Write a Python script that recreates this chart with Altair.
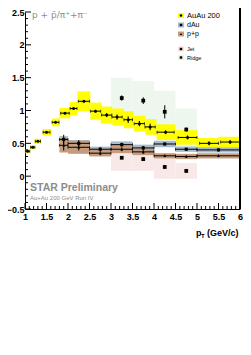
import altair as alt
import pandas as pd

# ---------------- data ----------------
# Au+Au 200 GeV
au_pt = [1.06, 1.18, 1.30, 1.50, 1.71, 1.93, 2.13, 2.37, 2.64, 2.90, 3.14, 3.40, 3.66, 3.91, 4.27, 4.78, 5.28, 5.77]
au_r = [0.38, 0.44, 0.53, 0.67, 0.82, 0.96, 1.03, 1.14, 0.99, 0.93, 0.90, 0.86, 0.80, 0.75, 0.67, 0.59, 0.50, 0.52]
au_lo = [1.00, 1.12, 1.22, 1.41, 1.63, 1.80, 2.04, 2.22, 2.52, 2.76, 3.03, 3.30, 3.53, 3.80, 4.06, 4.50, 5.00, 5.50]
au_hi = [1.11, 1.24, 1.38, 1.62, 1.81, 2.05, 2.22, 2.52, 2.78, 3.03, 3.30, 3.53, 3.80, 4.06, 4.50, 5.00, 5.50, 6.00]
au_sys = [0.03, 0.03, 0.04, 0.05, 0.06, 0.08, 0.10, 0.15, 0.13, 0.13, 0.13, 0.13, 0.12, 0.12, 0.12, 0.11, 0.08, 0.08]
au_err = [0.01, 0.01, 0.01, 0.01, 0.01, 0.01, 0.02, 0.02, 0.02, 0.03, 0.04, 0.05, 0.04, 0.05, 0.03, 0.03, 0.03, 0.03]
au_xe = [0.05, 0.05, 0.06, 0.08, 0.08, 0.10, 0.08, 0.13, 0.12, 0.12, 0.12, 0.10, 0.12, 0.12, 0.20, 0.22, 0.22, 0.22]

# d+Au and p+p (same bins)
dp_pt = [1.90, 2.25, 2.75, 3.25, 3.75, 4.25, 4.75, 5.50]
dp_lo = [1.80, 2.00, 2.50, 3.00, 3.50, 4.00, 4.50, 5.00]
dp_hi = [2.00, 2.50, 3.00, 3.50, 4.00, 4.50, 5.00, 6.00]
da_r = [0.56, 0.50, 0.41, 0.48, 0.43, 0.49, 0.41, 0.40]
da_sys = [0.05, 0.05, 0.04, 0.05, 0.05, 0.05, 0.04, 0.04]
da_err = [0.07, 0.05, 0.03, 0.03, 0.03, 0.02, 0.02, 0.02]
pp_r = [0.47, 0.44, 0.35, 0.41, 0.37, 0.31, 0.30, 0.31]
pp_sys = [0.11, 0.10, 0.05, 0.06, 0.05, 0.04, 0.04, 0.04]
pp_err = [0.08, 0.05, 0.03, 0.03, 0.03, 0.02, 0.02, 0.02]

# Jet and Ridge
jr_pt = [3.25, 3.75, 4.25, 4.75]
jr_lo = [3.00, 3.50, 4.00, 4.50]
jr_hi = [3.50, 4.00, 4.50, 5.00]
jet_r = [0.28, 0.26, 0.14, 0.08]
jet_sys = [0.20, 0.18, 0.18, 0.12]
jet_err = [0.02, 0.03, 0.03, 0.03]
rid_r = [1.19, 1.15, 0.98, 0.71]
rid_sys = [0.31, 0.30, 0.32, 0.32]
rid_err = [0.04, 0.05, 0.10, 0.03]

x_major = [1, 1.5, 2, 2.5, 3, 3.5, 4, 4.5, 5, 5.5, 6]
y_major = [-0.5, 0, 0.5, 1, 1.5, 2, 2.5]
x_minor = [round(1 + 0.1 * i, 2) for i in range(51) if i % 5 != 0]
y_minor = [round(-0.5 + 0.1 * i, 2) for i in range(31) if i % 5 != 0]

leg_names = ["AuAu 200", "dAu", "p+p", "Jet", "Ridge"]
leg_fill = ["#ffff00", "#a9bccb", "#c69c7e", "#f7dede", "#e8f4e8"]
leg_shape = ["circle", "square", "triangle-up", "square", "square"]
leg_fs = [7.5, 7, 7, 5.5, 5.5]
leg_y = [3.5, 13, 22, 37, 45.5]

# ---------------- chart ----------------
W, H = 215, 197
FONT = "Liberation Sans"
xs = alt.Scale(domain=[1, 6], nice=False, zero=False)
ys = alt.Scale(domain=[-0.5, 2.5], nice=False, zero=False)
ax = alt.Axis(values=x_major, format="~g", title=None, grid=False, ticks=False,
              domainColor="black", domainWidth=1, labelFont=FONT, labelFontWeight="bold",
              labelFontSize=9, labelColor="black", labelPadding=3, labelOverlap=False,
              labelFlush=False)
ay = alt.Axis(values=y_major, format="~g", title=None, grid=False, ticks=False,
              domainColor="black", domainWidth=1, labelFont=FONT, labelFontWeight="bold",
              labelFontSize=9, labelColor="black", labelPadding=1, labelOverlap=False,
              labelFlush=False)


def mk(pt, r, lo, hi, sys, err, xe=None):
    d = pd.DataFrame({"pt": pt, "r": r, "lo": lo, "hi": hi})
    d["ylo"] = [a - b for a, b in zip(r, sys)]
    d["yhi"] = [a + b for a, b in zip(r, sys)]
    d["elo"] = [a - b for a, b in zip(r, err)]
    d["ehi"] = [a + b for a, b in zip(r, err)]
    if xe is not None:
        d["xl"] = [a - b for a, b in zip(pt, xe)]
        d["xh"] = [a + b for a, b in zip(pt, xe)]
    else:
        d["xl"] = lo
        d["xh"] = hi
    return d


au = mk(au_pt, au_r, au_lo, au_hi, au_sys, au_err, au_xe)
da = mk(dp_pt, da_r, dp_lo, dp_hi, da_sys, da_err)
pp = mk(dp_pt, pp_r, dp_lo, dp_hi, pp_sys, pp_err)
jet = mk(jr_pt, jet_r, jr_lo, jr_hi, jet_sys, jet_err)
rid = mk(jr_pt, rid_r, jr_lo, jr_hi, rid_sys, rid_err)


def X(f):
    return alt.X(f, type="quantitative", scale=xs, axis=ax)


def Y(f):
    return alt.Y(f, type="quantitative", scale=ys, axis=ay)


def boxes(d, color, opacity=1.0):
    return alt.Chart(d).mark_rect(color=color, opacity=opacity).encode(
        x=X("lo"), x2="hi", y=Y("ylo"), y2="yhi")


def vbars(d):
    return alt.Chart(d).mark_rule(color="black", strokeWidth=1).encode(
        x=X("pt"), y=Y("elo"), y2="ehi")


def hbars(d):
    return alt.Chart(d).mark_rule(color="black", strokeWidth=1).encode(
        x=X("xl"), x2="xh", y=Y("r"))


def caps(d, f):
    return alt.Chart(d).mark_tick(color="black", orient="vertical", size=3, thickness=1).encode(
        x=X(f), y=Y("r"))


def pts(d, shape, size):
    return alt.Chart(d).mark_point(shape=shape, filled=True, color="black", size=size, opacity=1).encode(
        x=X("pt"), y=Y("r"))


layers = [
    boxes(rid, "#e8f4e8", 0.75),
    boxes(jet, "#f7dede", 0.7),
    boxes(au, "#ffff00"),
    boxes(da, "#a9bccb"),
    boxes(pp, "#c69c7e"),
    hbars(au), caps(au, "xl"), caps(au, "xh"),
    hbars(da), caps(da, "xl"), caps(da, "xh"),
    hbars(pp), caps(pp, "xl"), caps(pp, "xh"),
    vbars(au), vbars(da), vbars(pp), vbars(jet), vbars(rid),
    pts(au, "circle", 9),
    pts(da, "square", 10),
    pts(pp, "triangle-up", 9),
    pts(jet, "square", 14),
    pts(rid, "square", 14),
]

# inside ticks (ROOT style)
tx_major = pd.DataFrame({"v": x_major})
tx_minor = pd.DataFrame({"v": x_minor})
ty_major = pd.DataFrame({"v": y_major})
ty_minor = pd.DataFrame({"v": y_minor})
layers += [
    alt.Chart(tx_major).mark_rule(color="black", strokeWidth=1).encode(
        x=X("v"), y=alt.value(H), y2=alt.value(H - 6)),
    alt.Chart(tx_minor).mark_rule(color="black", strokeWidth=1).encode(
        x=X("v"), y=alt.value(H), y2=alt.value(H - 3)),
    alt.Chart(ty_major).mark_rule(color="black", strokeWidth=1).encode(
        y=Y("v"), x=alt.value(0), x2=alt.value(6)),
    alt.Chart(ty_minor).mark_rule(color="black", strokeWidth=1).encode(
        y=Y("v"), x=alt.value(0), x2=alt.value(3)),
    alt.Chart(tx_major).mark_rule(color="black", strokeWidth=1).encode(
        x=alt.value(W), y=alt.value(-6), y2=alt.value(H)),
]

# annotations
one = pd.DataFrame({"a": [0]})
layers += [
    alt.Chart(one).mark_text(text="p + p̄/π⁺+π⁻", font="DejaVu Sans", fontSize=9, color="#8c8c8c",
                             align="left", baseline="middle").encode(x=alt.value(7), y=alt.value(3)),
    alt.Chart(one).mark_text(text="STAR Preliminary", font=FONT, fontWeight="bold", fontSize=10.5,
                             color="#8c8c8c", align="left", baseline="middle").encode(
        x=alt.value(5), y=alt.value(176)),
    alt.Chart(one).mark_text(text="Au+Au 200 GeV Run IV", font=FONT, fontSize=6, color="#8c8c8c",
                             align="left", baseline="middle").encode(x=alt.value(5), y=alt.value(186)),
    alt.Chart(one).mark_text(text="p", font=FONT, fontWeight="bold", fontSize=9, color="black",
                             align="left", baseline="middle").encode(x=alt.value(171), y=alt.value(221)),
    alt.Chart(one).mark_text(text="T", font=FONT, fontWeight="bold", fontSize=6, color="black",
                             align="left", baseline="middle").encode(x=alt.value(176), y=alt.value(224)),
    alt.Chart(one).mark_text(text="(GeV/c)", font=FONT, fontWeight="bold", fontSize=9, color="black",
                             align="left", baseline="middle").encode(x=alt.value(182), y=alt.value(221)),
]

# legend
leg = pd.DataFrame({"name": leg_names, "fill": leg_fill, "shp": leg_shape, "fs": leg_fs, "ly": leg_y})
leg["ly0"] = leg["ly"] - 2.5
leg["ly1"] = leg["ly"] + 2.5
layers += [
    alt.Chart(leg).mark_rect().encode(
        x=alt.value(153), x2=alt.value(159),
        y=alt.Y("ly0:Q", scale=None, axis=None), y2="ly1:Q",
        color=alt.Color("fill:N", scale=None)),
    alt.Chart(leg).mark_point(filled=True, color="black", size=6, opacity=1).encode(
        x=alt.value(156), y=alt.Y("ly:Q", scale=None, axis=None),
        shape=alt.Shape("shp:N", scale=None)),
    alt.Chart(leg).mark_text(font=FONT, color="black", align="left", baseline="middle").encode(
        x=alt.value(162), y=alt.Y("ly:Q", scale=None, axis=None),
        text="name:N", size=alt.Size("fs:Q", scale=None)),
]

chart = alt.layer(*layers).properties(
    width=W, height=H,
    padding={"left": 17, "top": 4, "right": 3, "bottom": 130},
    autosize=alt.AutoSizeParams(type="none"),
    background="white",
).configure_view(stroke=None)

chart.save("out.html", embed_options={"renderer": "svg", "actions": False})
